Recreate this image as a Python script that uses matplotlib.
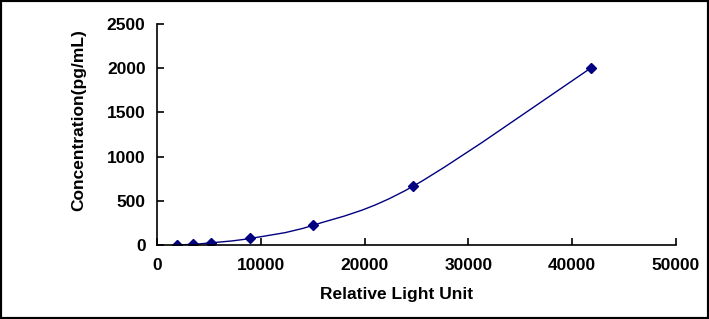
import matplotlib.pyplot as plt
from matplotlib.path import Path
from matplotlib.patches import PathPatch, Rectangle
import numpy as np

plt.rcParams['font.family'] = ['Liberation Sans', 'DejaVu Sans']
plt.rcParams['font.weight'] = 'bold'

# standard curve readings
rlu = [1900, 3400, 5200, 8900, 15000, 24700, 41800]
conc = [0, 8.23, 24.69, 74.07, 222.22, 666.67, 2000]

x_ticks = [0, 10000, 20000, 30000, 40000, 50000]
y_ticks = [0, 500, 1000, 1500, 2000, 2500]

NAVY = '#000080'


def smooth_path(xs, ys, t=1.0 / 6):
    # Excel-like smoothed line: cubic bezier through all points
    pts = np.column_stack([xs, ys]).astype(float)
    verts = [pts[0]]
    codes = [Path.MOVETO]
    n = len(pts)
    for i in range(n - 1):
        p0 = pts[i - 1] if i > 0 else pts[i]
        p1 = pts[i]
        p2 = pts[i + 1]
        p3 = pts[i + 2] if i + 2 < n else pts[i + 1]
        c1 = p1 + (p2 - p0) * t
        c2 = p2 - (p3 - p1) * t
        verts += [c1, c2, p2]
        codes += [Path.CURVE4] * 3
    return Path(verts, codes)


fig = plt.figure(figsize=[7.09, 3.19], dpi=100)
ax = fig.add_axes([0.222, 0.232, 0.731, 0.693])

ax.add_patch(PathPatch(smooth_path(rlu, conc), fill=False,
                       edgecolor=NAVY, lw=1.0))
ax.plot(rlu, conc, ls='none', marker='D', ms=5, color=NAVY)

ax.set_xlim(0, 50000)
ax.set_ylim(0, 2500)
ax.set_xticks(x_ticks)
ax.set_yticks(y_ticks)
ax.tick_params(direction='in', length=5, width=1.2, labelsize=12.5)
ax.tick_params(axis='x', pad=9.5)
ax.tick_params(axis='y', pad=8.5)
for s in ['top', 'right']:
    ax.spines[s].set_visible(False)
for s in ['left', 'bottom']:
    ax.spines[s].set_linewidth(1.2)

ax.set_xlabel('Relative Light Unit', fontsize=12.5, fontweight='bold', va='center')
ax.set_ylabel('Concentration(pg/mL)', fontsize=12.5, fontweight='bold', va='center')
ax.xaxis.set_label_coords(0.461, -0.223)
ax.yaxis.set_label_coords(-0.1525, 0.564)

fig.add_artist(Rectangle((0, 0), 1, 1, transform=fig.transFigure,
                         fill=False, edgecolor='black', lw=3))

fig.savefig('out.png', dpi=100)
